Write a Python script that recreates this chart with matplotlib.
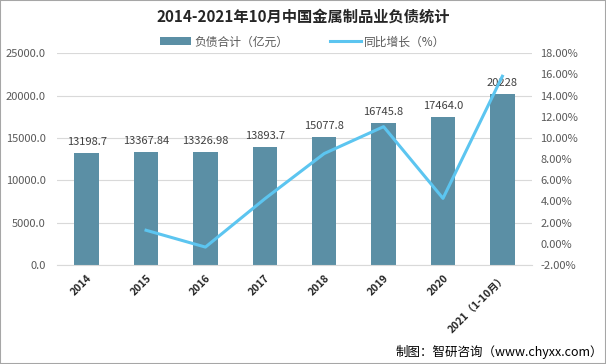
import matplotlib
matplotlib.use("Agg")
import matplotlib.pyplot as plt

plt.rcParams['font.family'] = ['Noto Sans CJK SC', 'DejaVu Sans']

categories = ["2014", "2015", "2016", "2017", "2018", "2019", "2020", "2021（1-10月）"]
debt = [13198.7, 13367.84, 13326.98, 13893.7, 15077.8, 16745.8, 17464.0, 20228]
debt_labels = ["13198.7", "13367.84", "13326.98", "13893.7", "15077.8", "16745.8", "17464.0", "20228"]
growth = [None, 1.28, -0.31, 4.25, 8.52, 11.06, 4.29, 15.82]

fig = plt.figure(figsize=(6.06, 3.64), dpi=100)
ax = fig.add_axes([0.094, 0.272, 0.784, 0.582])
ax2 = ax.twinx()

x = list(range(len(categories)))
bar_color = '#5B8FA5'
line_color = '#5CC5F0'

ax.bar(x, debt, width=0.41, color=bar_color, zorder=2, label='负债合计（亿元）')
for xi, v, lab in zip(x, debt, debt_labels):
    ax.text(xi, v + 700, lab, ha='center', va='bottom', fontsize=8, color='#404040')

ax.set_ylim(0, 25000)
ax.set_yticks([0, 5000, 10000, 15000, 20000, 25000])
ax.set_yticklabels([f"{t:.1f}" for t in [0, 5000, 10000, 15000, 20000, 25000]], fontsize=8, color='#595959')
ax.grid(axis='y', color='#D9D9D9', linewidth=0.8, zorder=0)
ax.set_axisbelow(True)
ax.set_xlim(-0.5, len(categories) - 0.5)
ax.set_xticks(x)
ax.set_xticklabels(categories, rotation=45, ha='right', rotation_mode='anchor', fontsize=7.5, fontweight='bold', color='#262626')
ax.tick_params(axis='x', length=0, pad=6)
ax.tick_params(axis='y', length=0, pad=8)
for s in ax.spines.values():
    s.set_visible(False)
ax.spines['bottom'].set_visible(True)
ax.spines['bottom'].set_color('#D9D9D9')

gx = [xi for xi, g in zip(x, growth) if g is not None]
gy = [g for g in growth if g is not None]
ax2.plot(gx, gy, color=line_color, linewidth=2.2, zorder=3, label='同比增长（%）')
ax2.set_ylim(-2, 18)
ticks2 = list(range(-2, 19, 2))
ax2.set_yticks(ticks2)
ax2.set_yticklabels([f"{t:.2f}%" for t in ticks2], fontsize=8, color='#595959')
ax2.tick_params(axis='y', length=0, pad=6)
for s in ax2.spines.values():
    s.set_visible(False)

fig.text(0.5, 0.953, '2014-2021年10月中国金属制品业负债统计', ha='center', va='center',
         fontsize=11, fontweight='bold', color='#262626')

h1, l1 = ax.get_legend_handles_labels()
h2, l2 = ax2.get_legend_handles_labels()
fig.legend(h1 + h2, l1 + l2, loc='center', bbox_to_anchor=(0.5, 0.885), ncol=2, frameon=False,
           fontsize=8.5, labelcolor='#595959', handlelength=2.6, columnspacing=3.5, handletextpad=0.3)

fig.text(0.995, 0.033, '制图：智研咨询（www.chyxx.com）', ha='right', va='center', fontsize=9, color='#000000')

border = plt.Rectangle((0, 0), 1, 1, transform=fig.transFigure, fill=False, edgecolor='#A6A6A6', linewidth=1.5)
fig.patches.append(border)

fig.savefig('out.png', dpi=100)
